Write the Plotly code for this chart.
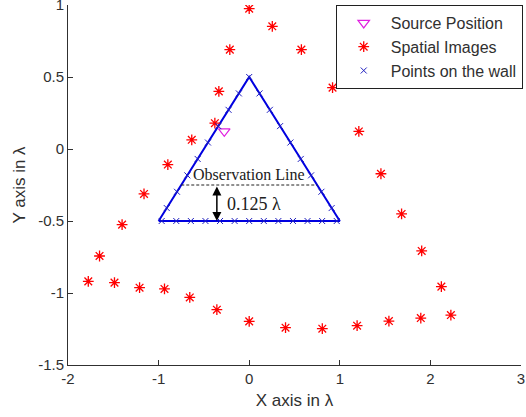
import plotly.graph_objects as go

# ---- data ----
tri_x = [-1, 1, 0, -1]
tri_y = [-0.5, -0.5, 0.5, -0.5]

wall_x = [0.0, -0.114, -0.228, -0.341, -0.455, -0.569, -0.683, -0.797, -0.910,
          -0.966, -0.805, -0.644, -0.483, -0.322, -0.161, 0.0, 0.161, 0.322,
          0.483, 0.644, 0.805, 0.966,
          0.910, 0.797, 0.683, 0.569, 0.455, 0.341, 0.228, 0.114]
wall_y = [0.5, 0.386, 0.272, 0.159, 0.045, -0.069, -0.183, -0.297, -0.410,
          -0.5, -0.5, -0.5, -0.5, -0.5, -0.5, -0.5, -0.5, -0.5,
          -0.5, -0.5, -0.5, -0.5,
          -0.410, -0.297, -0.183, -0.069, 0.045, 0.159, 0.272, 0.386]

img_x = [0.0, 0.255, -0.214, 0.576, -0.335, 0.920, -0.379, 1.21, -0.634, 1.454,
         -0.898, 1.682, -1.161, 1.904, -1.403, 2.121, -1.652, 2.226, -1.776, 1.894,
         -1.487, 1.542, -1.21, 1.191, -0.935, 0.807, -0.656, 0.401, -0.357, 0.0]
img_y = [0.975, 0.852, 0.690, 0.690, 0.400, 0.426, 0.179, 0.122, 0.064, -0.172,
         -0.108, -0.451, -0.312, -0.708, -0.525, -0.956, -0.743, -1.153, -0.919, -1.174,
         -0.928, -1.195, -0.963, -1.227, -0.972, -1.248, -1.031, -1.241, -1.116, -1.197]

src_x = [-0.275]
src_y = [0.123]

obs_x = [-0.75, 0.75]
obs_y = [-0.25, -0.25]

x_ticks = [-2, -1, 0, 1, 2, 3]
x_labels = ["-2", "-1", "0", "1", "2", "3"]
y_ticks = [-1.5, -1, -0.5, 0, 0.5, 1]
y_labels = ["-1.5", "-1", "-0.5", "0", "0.5", "1"]

SANS = "Arial, Liberation Sans, sans-serif"
SERIF = "Times New Roman, Liberation Serif, serif"
AX = "#303030"

fig = go.Figure()

fig.add_trace(go.Scatter(x=tri_x, y=tri_y, mode="lines",
                         line=dict(color="#0000E0", width=2), showlegend=False,
                         hoverinfo="skip"))
fig.add_trace(go.Scatter(x=obs_x, y=obs_y, mode="lines",
                         line=dict(color="#202020", width=1, dash="3px,2px"),
                         showlegend=False, hoverinfo="skip"))
fig.add_trace(go.Scatter(x=src_x, y=src_y, mode="markers", name="Source Position",
                         marker=dict(symbol="triangle-down-open", size=10,
                                     color="#E020E0", line=dict(width=1.2))))
fig.add_trace(go.Scatter(x=img_x, y=img_y, mode="markers", name="Spatial Images",
                         marker=dict(symbol="asterisk-open", size=9,
                                     color="#FF0000", line=dict(width=1.3, color="#FF0000"))))
fig.add_trace(go.Scatter(x=wall_x, y=wall_y, mode="markers", name="Points on the wall",
                         marker=dict(symbol="x-thin-open", size=6,
                                     color="#2020C0", line=dict(width=1, color="#2020C0"))))

fig.add_annotation(x=0, y=-0.18, xref="x", yref="y", text="Observation Line",
                   showarrow=False, font=dict(family=SERIF, size=16, color="#202020"))
fig.add_annotation(x=-0.27, y=-0.38, xref="x", yref="y", text="0.125 λ",
                   xanchor="left", showarrow=False,
                   font=dict(family=SERIF, size=18, color="#202020"))
fig.add_annotation(x=-0.357, y=-0.5, ax=-0.357, ay=-0.25, xref="x", yref="y",
                   axref="x", ayref="y", text="", showarrow=True,
                   arrowside="end+start", arrowhead=2, arrowsize=1.2,
                   arrowwidth=1.5, arrowcolor="#000000")

fig.update_layout(
    width=526, height=417,
    margin=dict(l=68, r=3, t=5, b=52),
    paper_bgcolor="white", plot_bgcolor="white",
    font=dict(family=SANS, size=15, color="#303030"),
    legend=dict(x=0.591, y=1.0, xanchor="left", yanchor="top",
                bgcolor="white", bordercolor="#202020", borderwidth=1,
                font=dict(family=SANS, size=16, color="#303030"),
                itemwidth=44, tracegroupgap=0),
    xaxis=dict(range=[-2, 3], tickvals=x_ticks, ticktext=x_labels,
               ticks="inside", ticklen=5, tickcolor=AX, showline=True,
               linecolor=AX, linewidth=1, showgrid=False, zeroline=False,
               ticklabeloverflow="allow", automargin=False,
               title=dict(text="X axis in λ", font=dict(size=17), standoff=8)),
    yaxis=dict(range=[-1.5, 1], tickvals=y_ticks, ticktext=y_labels,
               ticks="inside", ticklen=5, tickcolor=AX, showline=True,
               linecolor=AX, linewidth=1, showgrid=False, zeroline=False,
               ticklabeloverflow="allow", automargin=False,
               title=dict(text="Y axis in λ", font=dict(size=17), standoff=8)),
)

fig.write_html("out.html")
